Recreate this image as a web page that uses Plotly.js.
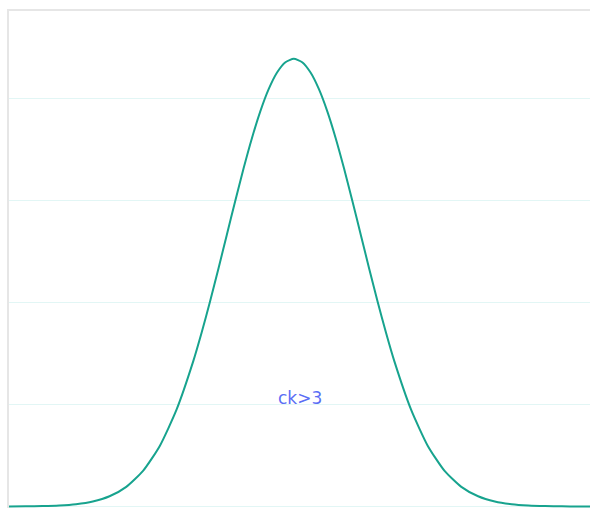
<!DOCTYPE html>
<html>
<head>
<meta charset="utf-8">
<script src="https://cdn.plot.ly/plotly-3.0.1.min.js"></script>
<style>html,body{margin:0;padding:0;background:#fff;}#chart{width:590px;height:508px;}</style>
</head>
<body>
<div id="chart"></div>
<script>
// Values (x in curve-width units, y in grid units)
var xValues = [-4.25, -4.0, -3.75, -3.5, -3.25, -3.0, -2.75, -2.5, -2.25, -2.0, -1.75, -1.5, -1.375, -1.25, -1.125, -1.0, -0.875, -0.75, -0.625, -0.5, -0.375, -0.25, -0.125, 0,
               0.125, 0.25, 0.375, 0.5, 0.625, 0.75, 0.875, 1.0, 1.125, 1.25, 1.375, 1.5, 1.75, 2.0, 2.25, 2.5, 2.75, 3.0, 3.25, 3.5, 3.75, 4.0, 4.25, 4.42];
var yValues = [0.00005, 0.00015, 0.00039, 0.00096, 0.00224, 0.00488, 0.01001, 0.01929, 0.03493, 0.05941, 0.09494, 0.14252, 0.17058, 0.20099, 0.23315, 0.26627, 0.29937, 0.33138, 0.36111, 0.38742, 0.40919, 0.42549, 0.43558, 0.439,
               0.43558, 0.42549, 0.40919, 0.38742, 0.36111, 0.33138, 0.29937, 0.26627, 0.23315, 0.20099, 0.17058, 0.14252, 0.09494, 0.05941, 0.03493, 0.01929, 0.01001, 0.00488, 0.00224, 0.00096, 0.00039, 0.00015, 0.00005, 0.00003];
var labelText = ['ck>3'];

var trace = {
  x: xValues, y: yValues, type: 'scatter', mode: 'lines',
  line: {color: '#17a38e', width: 2, shape: 'spline', smoothing: 0.6},
  hoverinfo: 'none', showlegend: false
};

var layout = {
  width: 590, height: 508,
  margin: {l: 9, r: 0, t: 11, b: 0, pad: 0},
  paper_bgcolor: '#ffffff', plot_bgcolor: '#ffffff',
  showlegend: false,
  xaxis: {range: [-4.25, 4.42], showgrid: false, zeroline: false, showticklabels: false,
          ticks: '', showline: true, side: 'top', linecolor: '#e6e6e6', linewidth: 2},
  yaxis: {range: [-0.00147, 0.4858], dtick: 0.1, tick0: 0, showgrid: true, gridcolor: '#e2f6f5', gridwidth: 1.5,
          zeroline: false, showticklabels: false, ticks: '', showline: true, linecolor: '#e6e6e6', linewidth: 2},
  annotations: [{x: 0.09, y: 0.106, xref: 'x', yref: 'y', text: labelText[0], showarrow: false,
                 font: {family: 'DejaVu Sans, sans-serif', size: 17, color: '#5b6ef5'}}]
};

Plotly.newPlot('chart', [trace], layout, {displayModeBar: false, staticPlot: true});
</script>
</body>
</html>
